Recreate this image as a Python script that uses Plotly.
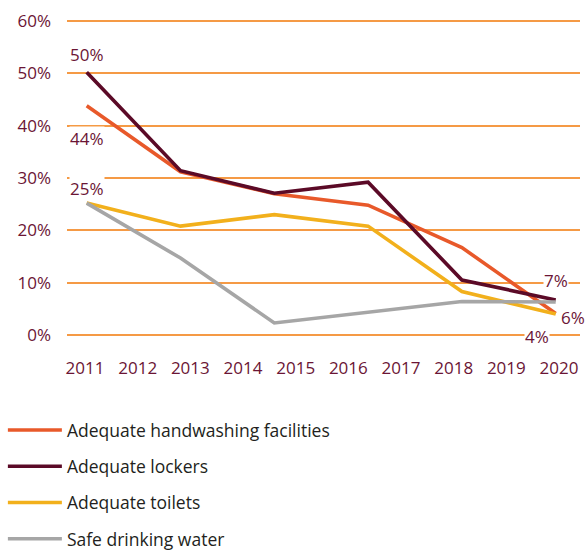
import plotly.graph_objects as go

# ---- data ----
year_labels = ["2011", "2012", "2013", "2014", "2015", "2016", "2017", "2018", "2019", "2020"]
survey_points = [0, 1, 2, 3, 4, 5]  # six survey rounds, evenly spread from 2011 to 2020

series_names = [
    "Adequate handwashing facilities",
    "Adequate lockers",
    "Adequate toilets",
    "Safe drinking water",
]
handwashing = [43.8, 31.2, 27.0, 24.8, 16.7, 4.1]
lockers = [50.2, 31.4, 27.1, 29.2, 10.5, 6.7]
toilets = [25.2, 20.8, 23.0, 20.8, 8.3, 4.0]
drinking_water = [25.2, 14.7, 2.3, 4.3, 6.4, 6.3]

y_ticks = [0, 10, 20, 30, 40, 50, 60]
y_tick_labels = ["0%", "10%", "20%", "30%", "40%", "50%", "60%"]

series_values = [handwashing, lockers, toilets, drinking_water]
series_colors = ["#E8592A", "#5B0A27", "#F2B01C", "#A6A6A6"]

# labelled points: (series index, point index, xshift, yshift)
point_labels = [
    (1, 0, 0, 18),
    (0, 0, 0, -33),
    (2, 0, 0, 15),
    (1, 5, 0, 19),
    (3, 5, 17, -16),
    (2, 5, -19, -22),
]

FONT = "Open Sans"
TICK_COLOR = "#6B1535"
GRID_COLOR = "#F59A45"

fig = go.Figure()
for name, vals, col in zip(series_names, series_values, series_colors):
    fig.add_trace(go.Scatter(
        x=survey_points, y=vals, mode="lines", name=name,
        line=dict(color=col, width=3.6), legendgroup=name,
        hoverinfo="skip",
    ))

for si, pi, dx, dy in point_labels:
    v = series_values[si][pi]
    fig.add_annotation(
        x=survey_points[pi], y=v, xref="x", yref="y",
        text=f"{round(v)}%", showarrow=False,
        xshift=dx, yshift=dy,
        font=dict(family=FONT, size=17, color=TICK_COLOR),
        bgcolor="white", borderpad=0,
    )

n_years = len(year_labels)
fig.update_layout(
    width=587, height=552,
    margin=dict(l=67, r=7, t=20, b=216, autoexpand=False),
    paper_bgcolor="white", plot_bgcolor="white",
    font=dict(family=FONT, size=17, color=TICK_COLOR),
    showlegend=True,
    hovermode=False,
    legend=dict(
        x=-0.125, y=-0.241, xanchor="left", yanchor="top",
        orientation="v", itemwidth=54, tracegroupgap=10.5,
        font=dict(family=FONT, size=17.5, color="#231F20"),
        bgcolor="rgba(0,0,0,0)",
    ),
    xaxis=dict(
        range=[-0.21, 5.259], showgrid=False, zeroline=False,
        showticklabels=False, ticks="", showline=False, fixedrange=True,
    ),
    xaxis2=dict(
        overlaying="x", anchor="y", side="bottom",
        range=[-0.342, n_years - 1 + 0.399],
        tickmode="array", tickvals=list(range(n_years)), ticktext=year_labels,
        showgrid=False, zeroline=False, showline=False,
        ticks="outside", ticklen=17, tickcolor="rgba(0,0,0,0)",
        tickfont=dict(family=FONT, size=17, color=TICK_COLOR),
    ),
    yaxis=dict(
        range=[-0.2, 60.2], tickmode="array", tickvals=y_ticks, ticktext=y_tick_labels,
        showgrid=True, gridcolor=GRID_COLOR, gridwidth=1.5,
        zeroline=False, showline=False, ticks="",
        tickfont=dict(family=FONT, size=17, color=TICK_COLOR),
        ticklabelstandoff=15,
    ),
)
# invisible anchor trace so the year axis is drawn
fig.add_trace(go.Scatter(x=[0], y=[0], xaxis="x2", yaxis="y", mode="markers",
                         marker=dict(opacity=0), showlegend=False, hoverinfo="skip"))

fig.write_html("out.html", config={"displayModeBar": False},
               post_script="document.body.style.margin='0';")
